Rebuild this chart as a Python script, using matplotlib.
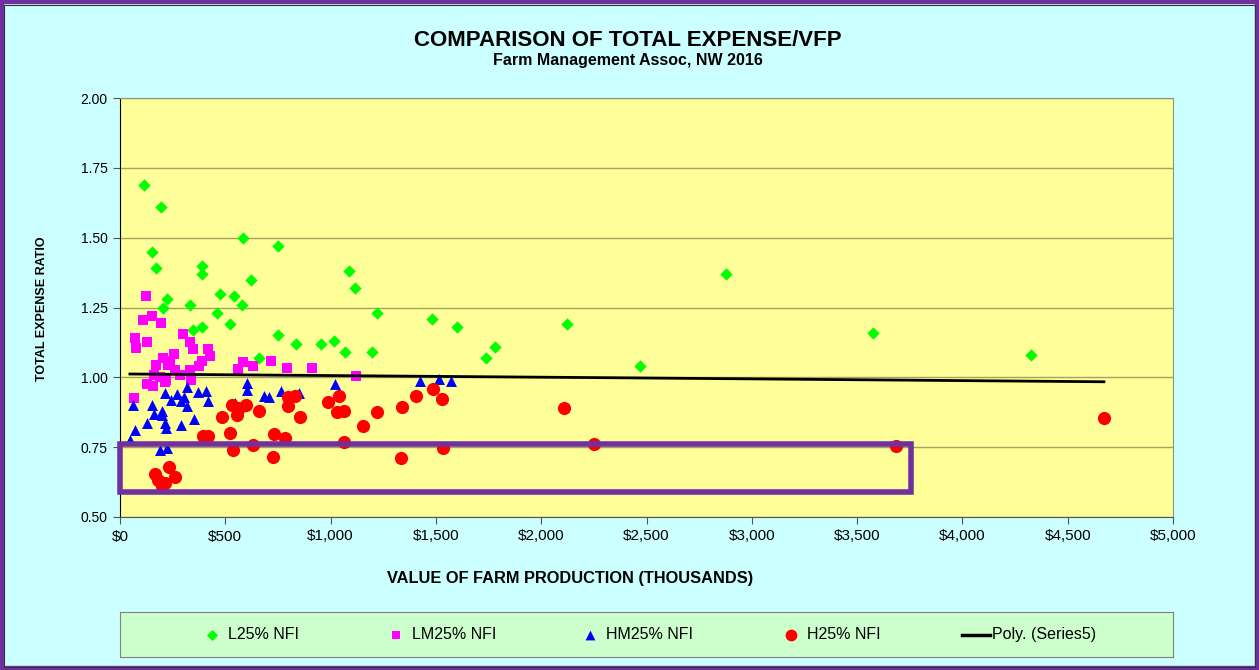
import numpy as np
import matplotlib.pyplot as plt
from matplotlib.patches import Rectangle
from matplotlib.ticker import FuncFormatter, MultipleLocator

plt.rcParams['font.family'] = ['Liberation Sans', 'DejaVu Sans']

# value of farm production (thousands $) and total expense ratio per group
l25_x = [114, 193, 586, 752, 150, 169, 391, 389, 624, 1089, 1117, 225, 206, 475, 541,
         334, 578, 459, 1220, 348, 389, 524, 752, 837, 956, 1017, 1070, 1198, 658,
         1481, 1601, 2124, 1780, 1739, 2469, 2879, 3575, 4325]
l25_y = [1.69, 1.61, 1.50, 1.47, 1.45, 1.39, 1.40, 1.37, 1.35, 1.38, 1.32, 1.28, 1.25, 1.30, 1.29,
         1.26, 1.26, 1.23, 1.23, 1.17, 1.18, 1.19, 1.15, 1.12, 1.12, 1.13, 1.09, 1.09, 1.07,
         1.21, 1.18, 1.19, 1.11, 1.07, 1.04, 1.37, 1.16, 1.08]

lm25_x = [125, 150, 111, 193, 71, 74, 128, 298, 334, 345, 419, 426, 391, 258, 203, 237,
          229, 171, 375, 261, 332, 286, 161, 190, 217, 339, 562, 585, 130, 155, 630, 716,
          793, 913, 1120, 66, 214]
lm25_y = [1.29, 1.22, 1.205, 1.195, 1.14, 1.105, 1.125, 1.155, 1.125, 1.10, 1.10, 1.075, 1.06, 1.085, 1.07, 1.06,
          1.045, 1.045, 1.04, 1.025, 1.025, 1.01, 1.01, 1.00, 0.99, 0.99, 1.03, 1.055, 0.975, 0.97, 1.04, 1.06,
          1.035, 1.035, 1.005, 0.925, 0.985]

hm25_x = [63, 214, 269, 317, 305, 242, 290, 317, 369, 406, 416, 150, 163, 198, 200, 128,
          214, 217, 290, 351, 71, 47, 190, 222, 546, 601, 601, 684, 709, 763, 851, 1022,
          1424, 1513, 1572]
hm25_y = [0.90, 0.945, 0.94, 0.966, 0.93, 0.92, 0.915, 0.897, 0.948, 0.952, 0.916, 0.90, 0.87, 0.88, 0.865, 0.835,
          0.835, 0.82, 0.83, 0.85, 0.81, 0.776, 0.74, 0.748, 0.907, 0.979, 0.955, 0.933, 0.928, 0.952, 0.943, 0.975,
          0.988, 0.994, 0.988]

h25_x = [166, 234, 261, 182, 214, 198, 396, 416, 483, 522, 538, 530, 554, 567, 597, 661,
         799, 831, 796, 856, 989, 1038, 1029, 1064, 1152, 731, 783, 630, 728, 1064, 1222,
         1339, 1407, 1486, 1529, 1535, 1336, 2110, 2250, 3684, 4672]
h25_y = [0.653, 0.678, 0.642, 0.632, 0.620, 0.611, 0.790, 0.790, 0.859, 0.802, 0.740, 0.901, 0.865, 0.889, 0.901, 0.879,
         0.931, 0.933, 0.897, 0.859, 0.913, 0.933, 0.877, 0.880, 0.827, 0.796, 0.784, 0.758, 0.716, 0.770, 0.875,
         0.895, 0.933, 0.958, 0.922, 0.746, 0.712, 0.891, 0.761, 0.754, 0.854]

# trend line (Series5)
trend_x = [47, 1709, 3134, 4672]
trend_y = [1.012, 1.002, 0.994, 0.984]

# highlighted region
box_x = [0, 3756]
box_y = [0.589, 0.761]

W, H = 1259, 670
fig = plt.figure(figsize=(W/100, H/100), dpi=100)
fig.patch.set_facecolor('#CCFFFF')

ax = fig.add_axes([120/W, 1-517/H, 1053/W, 419/H])
ax.set_facecolor('#FFFF99')

series = [
    (l25_x, l25_y, 'D', 40, '#00FF00', 'L25% NFI'),
    (lm25_x, lm25_y, 's', 42, '#FF00FF', 'LM25% NFI'),
    (hm25_x, hm25_y, '^', 62, '#0000FF', 'HM25% NFI'),
    (h25_x, h25_y, 'o', 90, '#FF0000', 'H25% NFI'),
]
for xs_, ys_, m, s, c, lab in series:
    ax.scatter(xs_, ys_, marker=m, s=s, c=c, linewidths=0, zorder=3)

coef = np.polyfit(trend_x, trend_y, 2)
xs = np.linspace(min(trend_x), max(trend_x), 200)
ax.plot(xs, np.polyval(coef, xs), color='black', lw=2, zorder=4)

ax.add_patch(Rectangle((box_x[0], box_y[0]), box_x[1]-box_x[0], box_y[1]-box_y[0],
                       fill=False, edgecolor='#7030A0', lw=4, zorder=5, clip_on=False))

ax.set_xlim(0, 5000)
ax.set_ylim(0.5, 2.0)
ax.xaxis.set_major_locator(MultipleLocator(500))
ax.yaxis.set_major_locator(MultipleLocator(0.25))
ax.xaxis.set_major_formatter(FuncFormatter(lambda v, p: f"${v:,.0f}"))
ax.yaxis.set_major_formatter(FuncFormatter(lambda v, p: f"{v:.2f}"))
ax.grid(axis='y', color='#A8A060', lw=1)
ax.set_axisbelow(True)
ax.tick_params(axis='x', labelsize=11, length=5, color='#555555', pad=4)
ax.tick_params(axis='y', labelsize=10, length=5, color='#555555', pad=4)
for s in ['top', 'right']:
    ax.spines[s].set_color('#909090')
ax.spines['left'].set_color('black')
ax.spines['bottom'].set_color('#555555')

fig.text(628/W, 1-40/H, 'COMPARISON OF TOTAL EXPENSE/VFP', ha='center', va='center',
         fontsize=16, fontweight='bold')
fig.text(628/W, 1-61/H, 'Farm Management Assoc, NW 2016', ha='center', va='center',
         fontsize=11.5, fontweight='bold')
fig.text(42/W, 1-309/H, 'TOTAL EXPENSE RATIO', ha='center', va='center', rotation=90,
         fontsize=9, fontweight='bold')
fig.text(570/W, 1-579/H, 'VALUE OF FARM PRODUCTION (THOUSANDS)', ha='center', va='center',
         fontsize=11.8, fontweight='bold')

# legend panel
lax = fig.add_axes([120/W, 1-657/H, 1053/W, 45/H])
lax.set_facecolor('#CCFFCC')
lax.set_xlim(120, 1173)
lax.set_ylim(0, 1)
lax.set_xticks([])
lax.set_yticks([])
for s in lax.spines.values():
    s.set_color('#808080')
leg_pos = [212, 396, 590, 791]
for (xs_, ys_, m, s, c, lab), px in zip(series, leg_pos):
    lax.scatter([px], [0.5], marker=m, s=s*0.8, c=c, linewidths=0)
    lax.text(px + 16, 0.5, lab, ha='left', va='center', fontsize=11.5)
lax.plot([962, 990], [0.5, 0.5], color='black', lw=2.5)
lax.text(992, 0.5, 'Poly. (Series5)', ha='left', va='center', fontsize=11.5)

fig.add_artist(Rectangle((0, 0), 1, 1, transform=fig.transFigure, fill=False,
                         edgecolor='#7030A0', lw=6))
fig.add_artist(Rectangle((4/W, 3/H), 1-8/W, 1-8/H, transform=fig.transFigure,
                         fill=False, edgecolor='#333333', lw=0.8))

fig.savefig('out.png', dpi=100, facecolor=fig.get_facecolor())
